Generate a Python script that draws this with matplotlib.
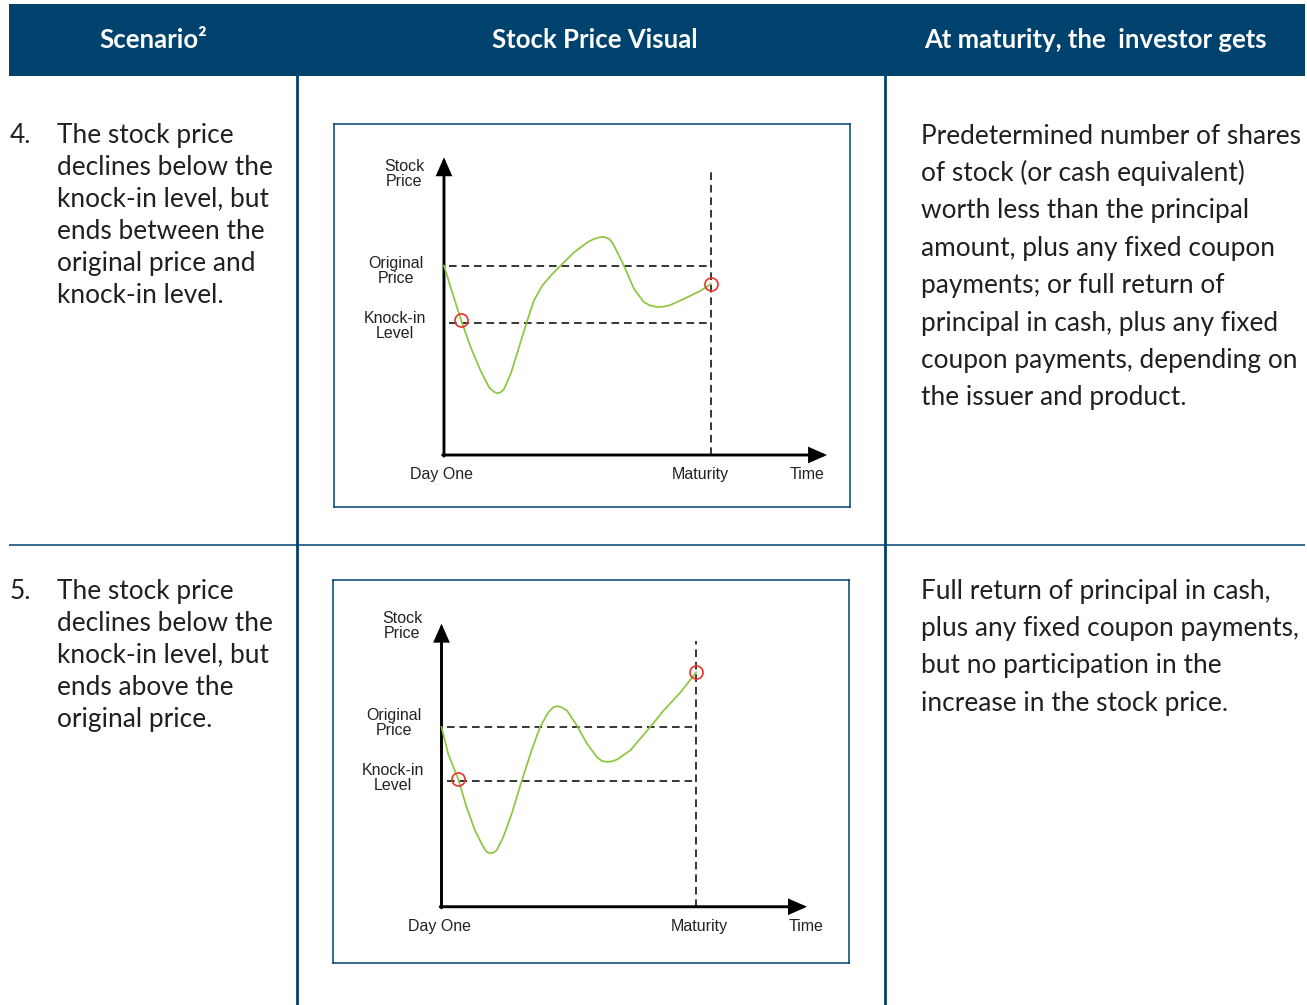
import matplotlib
matplotlib.use("Agg")
import matplotlib.pyplot as plt
from matplotlib.patches import Rectangle

plt.rcParams['lines.scale_dashes'] = False

W, H = 1307, 1005

NAVY = '#00426E'
TEXT = '#231F20'
GREEN = '#8DC63F'
RED = '#E8332A'
BODY_FONT = 'Lato'
CHART_FONT = 'Liberation Sans'

# ---------------- table content ----------------
headers = ["Scenario²", "Stock Price Visual", "At maturity, the  investor gets"]

scenario_numbers = ["4.", "5."]
scenario_text = [
    ["The stock price", "declines below the", "knock-in level, but",
     "ends between the", "original price and", "knock-in level."],
    ["The stock price", "declines below the", "knock-in level, but",
     "ends above the", "original price."],
]
outcome_text = [
    ["Predetermined number of shares", "of stock (or cash equivalent)",
     "worth less than the principal", "amount, plus any fixed coupon",
     "payments; or full return of", "principal in cash, plus any fixed",
     "coupon payments, depending on", "the issuer and product."],
    ["Full return of principal in cash,", "plus any fixed coupon payments,",
     "but no participation in the", "increase in the stock price."],
]

# ---------------- stock price paths ----------------
# time runs from Day One (0) to Maturity (10); price is indexed to 100 at Day One
ORIGINAL_PRICE = 100
KNOCK_IN_LEVEL = 70
MATURITY = 10

path4_time = [0.0, 0.25, 0.64, 1.0, 1.37, 1.69, 1.87, 2.0, 2.12, 2.25, 2.5, 2.81,
              3.12, 3.37, 3.68, 4.0, 4.37, 4.87, 5.37, 5.62, 5.87, 5.99, 6.18,
              6.3, 6.43, 6.74, 7.12, 7.49, 7.74, 7.99, 8.24, 8.49, 9.11, 9.61, 10.0]
path4_price = [100.2, 88.7, 71.4, 57.0, 44.6, 35.8, 33.5, 32.6, 33.2, 34.9, 42.9,
               57.0, 71.1, 81.7, 89.6, 94.9, 100.2, 107.2, 112.5, 114.3, 115.3,
               115.4, 114.3, 112.5, 109.0, 100.2, 87.8, 80.8, 79.0, 78.3, 78.5,
               79.4, 83.4, 86.9, 90.5]
path4_knock_idx = 2

path5_time = [0.0, 0.26, 0.66, 0.98, 1.31, 1.64, 1.77, 1.90, 2.03, 2.17, 2.43,
              2.76, 3.15, 3.54, 3.87, 4.20, 4.40, 4.56, 4.72, 4.92, 5.31, 5.71,
              6.10, 6.30, 6.50, 6.69, 6.89, 7.42, 8.14, 8.73, 9.39, 10.0]
path5_price = [100.0, 85.2, 70.9, 55.6, 42.6, 33.3, 30.6, 29.8, 30.0, 31.5, 38.9,
               51.9, 70.0, 87.1, 100.0, 108.3, 111.1, 111.6, 110.9, 109.3, 100.9,
               90.8, 83.3, 81.1, 80.6, 80.9, 81.9, 87.1, 99.1, 109.3, 119.4, 130.5]
path5_knock_idx = 2

paths = [(path4_time, path4_price, path4_knock_idx),
         (path5_time, path5_price, path5_knock_idx)]

axis_labels = ["Stock\nPrice", "Original\nPrice", "Knock-in\nLevel", "Day One", "Maturity", "Time"]

# ---------------- figure ----------------
fig = plt.figure(figsize=(W / 100, H / 100), dpi=100)
base = fig.add_axes([0, 0, 1, 1])
base.set_xlim(0, W)
base.set_ylim(H, 0)
base.axis('off')

# header band
base.add_patch(Rectangle((9, 4), 1296, 71.5, facecolor=NAVY, edgecolor='none'))
for label, cx in zip(headers, [153, 595, 1095]):
    base.text(cx, 40, label, color='white', fontsize=18.5, fontweight='bold',
              family=[BODY_FONT, 'DejaVu Sans'], ha='center', va='center')

# column and row rules
for x in [296.7, 884.7]:
    base.plot([x, x], [75, H], color=NAVY, lw=2.0, solid_capstyle='butt')
base.plot([9, 1305], [545.3, 545.3], color=NAVY, lw=1.1, solid_capstyle='butt')

# row text
BODY_SIZE = 18.9
row_baselines_left = [142.5, 598.5]
row_baselines_right = [143.5, 598.5]
for r in range(2):
    base.text(10, row_baselines_left[r], scenario_numbers[r], color=TEXT,
              fontsize=BODY_SIZE, family=BODY_FONT, va='baseline', ha='left')
    for i, line in enumerate(scenario_text[r]):
        base.text(57, row_baselines_left[r] + 32 * i, line, color=TEXT,
                  fontsize=BODY_SIZE, family=BODY_FONT, va='baseline', ha='left')
    for i, line in enumerate(outcome_text[r]):
        base.text(921, row_baselines_right[r] + 37.4 * i, line, color=TEXT,
                  fontsize=BODY_SIZE, family=BODY_FONT, va='baseline', ha='left')

# ---------------- stock price charts ----------------
chart_boxes = [(334, 124, 850, 507), (333, 580, 849, 963)]
chart_xlims = [(-4.12, 15.21), (-4.26, 16.0)]
chart_ylims = [(-27.5, 175.1), (-31.3, 181.8)]
maturity_tops = [152, 148]
label_centers = [
    [(404, 174), (396, 271), (395, 326), (441, 474), (700, 474), (807, 474)],
    [(402, 626), (394, 723), (393, 778), (440, 926), (699, 926), (806, 926)],
]

for k, ((x0, y0, x1, y1), (t, p, ki)) in enumerate(zip(chart_boxes, paths)):
    ax = fig.add_axes([x0 / W, 1 - y1 / H, (x1 - x0) / W, (y1 - y0) / H])
    ax.set_xlim(*chart_xlims[k])
    ax.set_ylim(*chart_ylims[k])
    ax.set_xticks([])
    ax.set_yticks([])
    for s in ax.spines.values():
        s.set_color(NAVY)
        s.set_linewidth(1.1)

    dash = dict(color='black', lw=1.1, dashes=(5.5, 3.5))
    ax.plot([0.2, MATURITY], [ORIGINAL_PRICE, ORIGINAL_PRICE], **dash)
    ax.plot([0.2, MATURITY], [KNOCK_IN_LEVEL, KNOCK_IN_LEVEL], **dash)
    ax.plot([MATURITY, MATURITY], [0, maturity_tops[k]], **dash)

    arrow = dict(arrowstyle='-|>,head_length=0.5,head_width=0.22',
                 mutation_scale=20, color='black', lw=2.1,
                 shrinkA=0, shrinkB=0, joinstyle='miter')
    ax.annotate('', xy=(0, 157.5), xytext=(0, -0.6), arrowprops=arrow)
    ax.annotate('', xy=(14.35, 0), xytext=(-0.05, 0), arrowprops=arrow)

    ax.plot(t, p, color=GREEN, lw=1.25, solid_joinstyle='round', zorder=3)
    ax.plot([t[ki], t[-1]], [p[ki], p[-1]], ls='none', marker='o', ms=9.4,
            mfc='none', mec=RED, mew=1.2, zorder=4)

    for label, (cx, cy) in zip(axis_labels, label_centers[k]):
        base.text(cx, cy, label, fontsize=11.5, family=CHART_FONT, color='#222222',
                  ha='center', va='center', linespacing=1.0, zorder=5)

base.set_zorder(5)
base.patch.set_alpha(0)

fig.savefig('out.png', dpi=100, facecolor='white')
